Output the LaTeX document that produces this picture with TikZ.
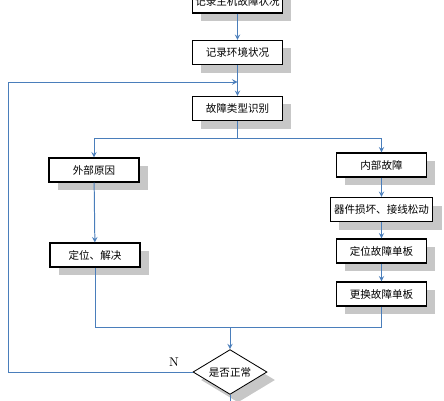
\documentclass[tikz,border=0pt]{standalone}
\usepackage{fontspec}
\newfontfamily\cjk{Noto Sans CJK SC}
\usetikzlibrary{shapes.geometric, arrows, shadows}
\definecolor{flowblue}{RGB}{74,126,187}
\tikzstyle{process} = [
    rectangle,
    minimum width=2.25cm,
    minimum height=0.6cm,
    inner sep=1pt,
    draw=black,
    line width=0.8pt,
    fill=white,
    font=\cjk\fontsize{7.5}{9}\selectfont,
    drop shadow={shadow xshift=0.22cm, shadow yshift=-0.2cm, fill=black!22, opacity=1}
]
\tikzstyle{decision} = [
    diamond,
    aspect=1.65,
    minimum width=1.85cm,
    minimum height=1.12cm,
    inner sep=0pt,
    draw=black,
    line width=0.6pt,
    fill=white,
    font=\cjk\fontsize{7.5}{9}\selectfont,
    drop shadow={shadow xshift=0.2cm, shadow yshift=-0.2cm, fill=black!22, opacity=1}
]
\tikzstyle{arrow} = [flowblue, line width=0.7pt, ->, >=stealth]
\tikzstyle{line} = [flowblue, line width=0.7pt]

\begin{document}
\begin{tikzpicture}[x=0.025cm, y=-0.025cm]
\useasboundingbox (0,0) rectangle (444,400);

\node (host) [process] at (237.5,1) {记录主机故障状况};
\node (env) [process] at (237.5,52.5) {记录环境状况};
\node (type) [process] at (237.5,108.5) {故障类型识别};

\node (ext) [process] at (94,170) {外部原因};
\node (fix) [process] at (95,255) {定位、解决};

\node (inner) [process] at (381.5,165) {内部故障};
\node (dev) [process, minimum width=2.57cm] at (381.5,209.5) {器件损坏、接线松动};
\node (loc) [process] at (381.5,251) {定位故障单板};
\node (rep) [process] at (381.5,294) {更换故障单板};

\node (chk) [decision] at (230,372) {是否正常};

\coordinate (split) at (237.5,138);
\coordinate (merge) at (230,327);
\coordinate (corner) at (8,372);
\coordinate (join) at (237.5,82);
\coordinate (out) at (230,402);

\draw [arrow] (host) -- (env);
\draw [arrow] (env) -- (type);
\draw [line] (type) -- (split);
\draw [arrow] (split) -| (ext);
\draw [arrow] (split) -| (inner);
\draw [arrow] (ext) -- (fix);
\draw [arrow] (inner) -- (dev);
\draw [arrow] (dev) -- (loc);
\draw [arrow] (loc) -- (rep);
\draw [line] (fix.south) |- (merge);
\draw [line] (rep.south) |- (merge);
\draw [arrow] (merge) -- (chk);
\draw [arrow] (chk.west) -- node[pos=0.1, above, black, font=\rmfamily\small] {N} (corner) |- (join);
\draw [line] (chk.south) -- (out);

\end{tikzpicture}
\end{document}
